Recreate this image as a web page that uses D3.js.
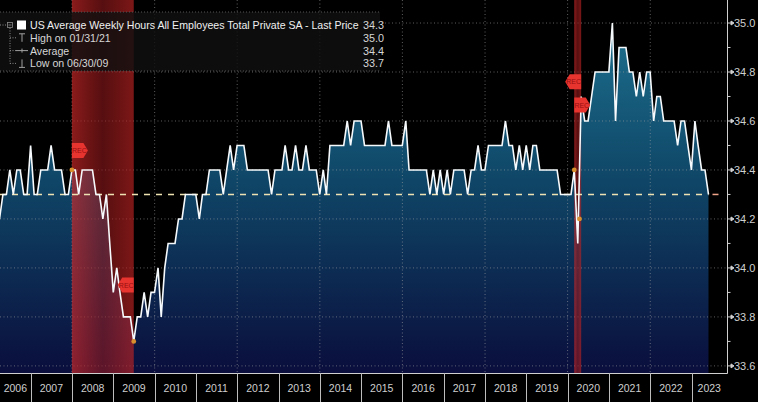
<!DOCTYPE html>
<html>
<head>
<meta charset="utf-8">
<script src="https://cdn.jsdelivr.net/npm/d3@7"></script>
<style>
  html, body { margin: 0; padding: 0; background: #000; }
  svg { display: block; font-family: "Liberation Sans", Arial, sans-serif; }
</style>
</head>
<body>
<div id="chart"></div>
<script>
// monthly values, first one is March 2006
const firstYear = 2006, firstMonth = 2;
const hours2006 = [34.2, 34.3, 34.3, 34.4, 34.3, 34.4, 34.4, 34.3, 34.3, 34.5];
const hours2007 = [34.3, 34.3, 34.4, 34.4, 34.4, 34.5, 34.4, 34.4, 34.4, 34.3, 34.3, 34.4];
const hours2008 = [34.4, 34.3, 34.4, 34.4, 34.4, 34.4, 34.3, 34.3, 34.2, 34.3, 34.1, 33.9];
const hours2009 = [34.0, 33.9, 33.8, 33.8, 33.8, 33.7, 33.8, 33.8, 33.9, 33.8, 33.9, 33.9];
const hours2010 = [34.0, 33.8, 34.0, 34.1, 34.1, 34.1, 34.2, 34.2, 34.3, 34.3, 34.3, 34.3];
const hours2011 = [34.2, 34.3, 34.3, 34.4, 34.4, 34.4, 34.4, 34.3, 34.4, 34.5, 34.4, 34.5];
const hours2012 = [34.5, 34.5, 34.4, 34.4, 34.4, 34.4, 34.4, 34.4, 34.4, 34.3, 34.4, 34.4];
const hours2013 = [34.4, 34.5, 34.4, 34.4, 34.5, 34.4, 34.4, 34.5, 34.4, 34.4, 34.4, 34.3];
const hours2014 = [34.4, 34.3, 34.5, 34.5, 34.5, 34.5, 34.5, 34.6, 34.5, 34.6, 34.6, 34.6];
const hours2015 = [34.5, 34.5, 34.5, 34.5, 34.5, 34.5, 34.5, 34.6, 34.5, 34.5, 34.5, 34.5];
const hours2016 = [34.6, 34.4, 34.4, 34.4, 34.4, 34.4, 34.4, 34.3, 34.4, 34.3, 34.4, 34.3];
const hours2017 = [34.4, 34.3, 34.4, 34.4, 34.4, 34.4, 34.3, 34.4, 34.4, 34.5, 34.4, 34.4];
const hours2018 = [34.5, 34.5, 34.5, 34.5, 34.5, 34.6, 34.5, 34.5, 34.4, 34.5, 34.4, 34.5];
const hours2019 = [34.4, 34.5, 34.5, 34.4, 34.4, 34.4, 34.4, 34.4, 34.4, 34.3, 34.3, 34.3];
const hours2020 = [34.3, 34.4, 34.1, 34.7, 34.6, 34.6, 34.7, 34.8, 34.8, 34.8, 34.8, 34.8];
const hours2021 = [35.0, 34.6, 34.9, 34.9, 34.9, 34.8, 34.8, 34.7, 34.8, 34.7, 34.8, 34.8];
const hours2022 = [34.6, 34.7, 34.7, 34.6, 34.6, 34.6, 34.6, 34.5, 34.6, 34.6, 34.5, 34.4];
const hours2023 = [34.6, 34.5, 34.4, 34.4, 34.3];

const yearLabels = ['2006', '2007', '2008', '2009', '2010', '2011', '2012', '2013', '2014',
  '2015', '2016', '2017', '2018', '2019', '2020', '2021', '2022', '2023'];
const yTicks = [33.6, 33.8, 34.0, 34.2, 34.4, 34.6, 34.8, 35.0];
const gridYears = [2008, 2010, 2012, 2014, 2016, 2018, 2020, 2022];
const recessions = [
  { start: '2007-12-31', end: '2009-06-30' },
  { start: '2020-02-29', end: '2020-04-30' },
];
const markerDates = ['2007-12-31', '2009-06-30', '2020-02-29', '2020-04-15'];
const markerValues = [34.4, 33.7, 34.4, 34.2];
const lastPrice = 34.3;
const legendLabels = [
  'US Average Weekly Hours All Employees Total Private SA - Last Price',
  'High on 01/31/21',
  'Average',
  'Low on 06/30/09',
];
const legendValues = ['34.3', '35.0', '34.4', '33.7'];

const allHours = [].concat(hours2006, hours2007, hours2008, hours2009, hours2010, hours2011,
  hours2012, hours2013, hours2014, hours2015, hours2016, hours2017, hours2018, hours2019,
  hours2020, hours2021, hours2022, hours2023);
// points sit at month end, like the terminal does
const data = allHours.map((v, i) => ({
  date: new Date(firstYear, firstMonth + i + 1, 0),
  value: v,
}));
const parseDate = d3.timeParse('%Y-%m-%d');

const width = 758, height = 402;
const plotW = 727, plotH = 373;

const svg = d3.select('#chart').append('svg')
  .attr('width', width)
  .attr('height', height);

svg.append('rect').attr('width', width).attr('height', height).attr('fill', '#000');

// Scales
const x = d3.scaleTime()
  .domain([new Date(2008, 0, 1), new Date(2020, 0, 1)])
  .range([72, 567.6]);
const y = d3.scaleLinear()
  .domain([33.571, 35.094])
  .range([plotH, 0]);

const defs = svg.append('defs');
defs.append('clipPath').attr('id', 'plotClip')
  .append('rect').attr('width', plotW).attr('height', plotH);

const areaGrad = defs.append('linearGradient')
  .attr('id', 'areaGrad')
  .attr('gradientUnits', 'userSpaceOnUse')
  .attr('x1', 0).attr('x2', 0)
  .attr('y1', y(35.0)).attr('y2', plotH);
areaGrad.append('stop').attr('offset', 0).attr('stop-color', '#1d6f8d');
areaGrad.append('stop').attr('offset', 0.45).attr('stop-color', '#0f4667');
areaGrad.append('stop').attr('offset', 1).attr('stop-color', '#0a0e3c');

const recGrad = defs.append('linearGradient').attr('id', 'recGrad');
recGrad.append('stop').attr('offset', 0).attr('stop-color', 'rgb(205,40,40)').attr('stop-opacity', 0.68);
recGrad.append('stop').attr('offset', 0.5).attr('stop-color', 'rgb(150,25,28)').attr('stop-opacity', 0.58);
recGrad.append('stop').attr('offset', 1).attr('stop-color', 'rgb(190,35,35)').attr('stop-opacity', 0.66);

const plot = svg.append('g').attr('clip-path', 'url(#plotClip)');

// Area + grid
const area = d3.area()
  .x(d => x(d.date))
  .y0(plotH)
  .y1(d => y(d.value));
plot.append('path').datum(data)
  .attr('d', area)
  .attr('fill', 'url(#areaGrad)');

plot.append('g').selectAll('line')
  .data(yTicks)
  .enter()
  .append('line')
  .attr('x1', 0).attr('x2', plotW)
  .attr('y1', d => y(d)).attr('y2', d => y(d))
  .attr('stroke', 'rgba(170,170,170,0.55)')
  .attr('stroke-dasharray', '1,2.5');
plot.append('g').selectAll('line')
  .data(gridYears)
  .enter()
  .append('line')
  .attr('x1', d => x(new Date(d, 0, 1))).attr('x2', d => x(new Date(d, 0, 1)))
  .attr('y1', 0).attr('y2', plotH)
  .attr('stroke', 'rgba(170,170,170,0.55)')
  .attr('stroke-dasharray', '1,2.5');

// Recession bands
plot.append('g').selectAll('rect')
  .data(recessions)
  .enter()
  .append('rect')
  .attr('x', d => x(parseDate(d.start)))
  .attr('width', d => x(parseDate(d.end)) - x(parseDate(d.start)))
  .attr('y', 0)
  .attr('height', plotH)
  .attr('fill', 'url(#recGrad)');

// Last price line
const lastX = x(data[data.length - 1].date);
plot.append('line')
  .attr('x1', 0).attr('x2', lastX)
  .attr('y1', y(lastPrice)).attr('y2', y(lastPrice))
  .attr('stroke', '#eee2b2')
  .attr('stroke-width', 1.5)
  .attr('stroke-dasharray', '6,6');
plot.append('line')
  .attr('x1', lastX + 4).attr('x2', lastX + 10)
  .attr('y1', y(lastPrice)).attr('y2', y(lastPrice))
  .attr('stroke', '#f0a58a')
  .attr('stroke-width', 1.5);

// Series line
const line = d3.line()
  .x(d => x(d.date))
  .y(d => y(d.value));
plot.append('path').datum(data)
  .attr('d', line)
  .attr('fill', 'none')
  .attr('stroke', '#f6fafc')
  .attr('stroke-width', 1.6)
  .attr('stroke-linejoin', 'miter');

// Event dots
plot.append('g').selectAll('circle')
  .data(markerDates)
  .enter()
  .append('circle')
  .attr('cx', d => x(parseDate(d)))
  .attr('cy', (d, i) => y(markerValues[i]))
  .attr('r', 2.4)
  .attr('fill', '#d9902e');

// REC tags
const tags = [
  { date: recessions[0].start, value: 34.48, dir: 1 },
  { date: recessions[0].end, value: 33.93, dir: -1 },
  { date: recessions[1].end, value: 34.76, dir: -1 },
  { date: recessions[1].start, value: 34.665, dir: 1 },
];
const tagG = svg.append('g');
tags.forEach(t => {
  const x0 = x(parseDate(t.date));
  const yc = y(t.value);
  const d = t.dir;
  const pts = [[x0, yc - 7.5], [x0 + d * 11.5, yc - 7.5], [x0 + d * 16, yc],
    [x0 + d * 11.5, yc + 7.5], [x0, yc + 7.5]];
  tagG.append('polygon')
    .attr('points', pts.map(p => p.join(',')).join(' '))
    .attr('fill', '#e8342f');
  tagG.append('text')
    .attr('x', x0 + d * 7.5)
    .attr('y', yc + 2.5)
    .attr('text-anchor', 'middle')
    .attr('font-size', 7)
    .attr('fill', '#981010')
    .text('REC');
});

// Legend
const legend = svg.append('g');
legend.append('rect')
  .attr('x', 0).attr('y', 12)
  .attr('width', 380).attr('height', 59)
  .attr('fill', 'rgba(16,16,16,0.82)');
[12, 71].forEach(yy => {
  legend.append('line')
    .attr('x1', 0).attr('x2', 380).attr('y1', yy).attr('y2', yy)
    .attr('stroke', '#555').attr('stroke-dasharray', '1,2');
});
const rowY = [25, 37.8, 50.6, 63.4];
const treeStroke = '#8a8a8a';
legend.append('line')
  .attr('x1', 0).attr('x2', 7).attr('y1', rowY[0]).attr('y2', rowY[0])
  .attr('stroke', treeStroke).attr('stroke-dasharray', '1,1.5');
legend.append('line')
  .attr('x1', 10).attr('x2', 10).attr('y1', rowY[0] + 3).attr('y2', rowY[3])
  .attr('stroke', treeStroke).attr('stroke-dasharray', '1,1.5');
rowY.slice(1).forEach(ry => {
  legend.append('line')
    .attr('x1', 10).attr('x2', 17).attr('y1', ry).attr('y2', ry)
    .attr('stroke', treeStroke).attr('stroke-dasharray', '1,1.5');
});
legend.append('rect')
  .attr('x', 7.5).attr('y', rowY[0] - 2.5).attr('width', 5).attr('height', 5)
  .attr('fill', '#111').attr('stroke', treeStroke).attr('stroke-width', 0.8);
legend.append('line')
  .attr('x1', 8.5).attr('x2', 11.5).attr('y1', rowY[0]).attr('y2', rowY[0])
  .attr('stroke', treeStroke).attr('stroke-width', 0.8);
legend.append('rect')
  .attr('x', 17).attr('y', rowY[0] - 4.5).attr('width', 9).attr('height', 9)
  .attr('fill', '#fff');
const iconStroke = '#a0a0a0';
// high
legend.append('path')
  .attr('d', `M19,${rowY[1] - 4}H25M22,${rowY[1] - 4}V${rowY[1] + 4}`)
  .attr('stroke', iconStroke).attr('fill', 'none');
// average
legend.append('path')
  .attr('d', `M16,${rowY[2]}H28M22,${rowY[2] - 2}V${rowY[2] + 2}`)
  .attr('stroke', iconStroke).attr('fill', 'none');
// low
legend.append('path')
  .attr('d', `M22,${rowY[3] - 4}V${rowY[3] + 4}M19,${rowY[3] + 4}H25`)
  .attr('stroke', iconStroke).attr('fill', 'none');

legend.selectAll('text.lbl')
  .data(legendLabels)
  .enter()
  .append('text')
  .attr('class', 'lbl')
  .attr('x', 30)
  .attr('y', (d, i) => rowY[i] + 4)
  .attr('font-size', 10.6)
  .attr('fill', (d, i) => (i === 0 ? '#f0f0f0' : '#d6d6d6'))
  .text(d => d);
legend.selectAll('text.val')
  .data(legendValues)
  .enter()
  .append('text')
  .attr('class', 'val')
  .attr('x', 363)
  .attr('y', (d, i) => rowY[i] + 4)
  .attr('font-size', 10.8)
  .attr('fill', '#d6d6d6')
  .text(d => d);

// Right axis
const axisColor = '#d0d0d0';
svg.append('line')
  .attr('x1', plotW + 0.5).attr('x2', plotW + 0.5)
  .attr('y1', 0).attr('y2', plotH + 0.5)
  .attr('stroke', axisColor);
const yAxis = svg.append('g');
yAxis.selectAll('path.major')
  .data(yTicks)
  .enter()
  .append('path')
  .attr('class', 'major')
  .attr('d', d => `M${plotW},${y(d)}H${plotW + 4}M${plotW + 4},${y(d) - 2}L${plotW + 7},${y(d)}L${plotW + 4},${y(d) + 2}Z`)
  .attr('stroke', axisColor)
  .attr('fill', axisColor)
  .attr('stroke-width', 1);
yAxis.selectAll('line.minor')
  .data(yTicks.slice(0, -1))
  .enter()
  .append('line')
  .attr('class', 'minor')
  .attr('x1', plotW).attr('x2', plotW + 3.5)
  .attr('y1', d => y(d + 0.1)).attr('y2', d => y(d + 0.1))
  .attr('stroke', axisColor);
yAxis.selectAll('text')
  .data(yTicks)
  .enter()
  .append('text')
  .attr('x', plotW + 7)
  .attr('y', d => y(d))
  .attr('dy', '0.36em')
  .attr('font-size', 11)
  .attr('fill', '#cfcfcf')
  .text(d => d.toFixed(1));

// Bottom axis
svg.append('line')
  .attr('x1', 0).attr('x2', plotW + 0.5)
  .attr('y1', plotH + 0.5).attr('y2', plotH + 0.5)
  .attr('stroke', axisColor);
const xAxis = svg.append('g');
xAxis.selectAll('line')
  .data(yearLabels.slice(1))
  .enter()
  .append('line')
  .attr('x1', d => Math.round(x(new Date(+d, 0, 1))) + 0.5)
  .attr('x2', d => Math.round(x(new Date(+d, 0, 1))) + 0.5)
  .attr('y1', plotH).attr('y2', height)
  .attr('stroke', '#bdbdbd');
xAxis.selectAll('text')
  .data(yearLabels)
  .enter()
  .append('text')
  .attr('x', d => {
    const a = Math.max(0, x(new Date(+d, 0, 1)));
    const b = Math.min(plotW, x(new Date(+d + 1, 0, 1)));
    return (a + b) / 2;
  })
  .attr('y', 392)
  .attr('text-anchor', 'middle')
  .attr('font-size', 10.5)
  .attr('fill', '#cfcfcf')
  .text(d => d);
</script>
</body>
</html>
